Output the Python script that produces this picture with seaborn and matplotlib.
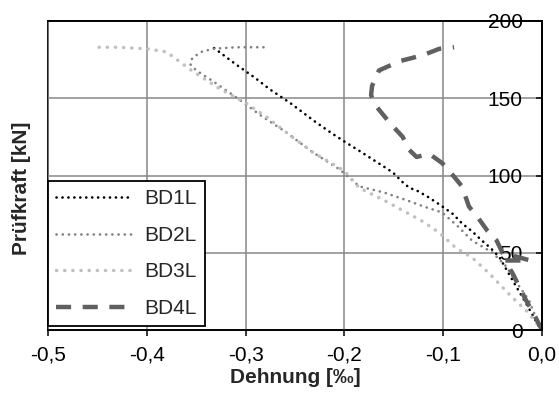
import matplotlib
matplotlib.use("Agg")
import matplotlib.pyplot as plt
import seaborn as sns
import pandas as pd

# ---- data ----
bd1_strain = [0.0, -0.003, -0.015, -0.026, -0.035, -0.043, -0.052, -0.061, -0.071, -0.081, -0.090,
              -0.101, -0.115, -0.126, -0.134, -0.140, -0.151, -0.168, -0.185, -0.200, -0.212,
              -0.230, -0.255, -0.276, -0.290, -0.310, -0.333]
bd1_force = [0, 2, 16, 28, 38, 47, 53, 58, 64, 69, 75, 80, 86, 90, 92, 95, 102, 109, 116, 122, 127,
             135, 147, 156, 163, 172, 183]

bd2_strain = [0.0, -0.005, -0.013, -0.025, -0.036, -0.050, -0.071, -0.085, -0.101, -0.120, -0.137,
              -0.160, -0.185, -0.205, -0.232, -0.259, -0.285, -0.306, -0.333, -0.350, -0.356,
              -0.354, -0.345, -0.333, -0.310, -0.280]
bd2_force = [0, 6, 19, 30, 41, 50, 58, 67, 76, 80, 84, 89, 93, 104, 115, 128, 139, 149, 161, 168,
             172, 176, 180, 182, 183, 183]

bd3_strain = [0.0, -0.005, -0.015, -0.030, -0.042, -0.054, -0.071, -0.087, -0.104, -0.120, -0.137,
              -0.160, -0.185, -0.200, -0.232, -0.255, -0.279, -0.300, -0.326, -0.357, -0.380,
              -0.400, -0.430, -0.456]
bd3_force = [0, 4, 12, 21, 29, 37, 47, 53, 63, 70, 76, 84, 92, 103, 115, 126, 138, 147, 156, 169,
             180, 182, 183, 183]

bd4_strain = [0.0, -0.008, -0.016, -0.023, -0.030, -0.038, -0.012, -0.040, -0.046, -0.055, -0.064,
              -0.074, -0.081, -0.090, -0.101, -0.114, -0.127, -0.135, -0.141, -0.154, -0.168,
              -0.173, -0.172, -0.165, -0.144, -0.120, -0.104, -0.089]
bd4_force = [0, 10, 19, 28, 37, 45, 45, 50, 58, 64, 72, 80, 93, 100, 108, 114, 112, 117, 125, 134,
             145, 152, 158, 168, 174, 178, 182, 183]

series_names = ["BD1L", "BD2L", "BD3L", "BD4L"]
x_ticks = [-0.5, -0.4, -0.3, -0.2, -0.1, 0.0]
x_ticklabels = ["-0,5", "-0,4", "-0,3", "-0,2", "-0,1", "0,0"]
y_ticks = [0, 50, 100, 150, 200]
y_ticklabels = ["0", "50", "100", "150", "200"]

sns.set_theme(style="white")
plt.rcParams["font.family"] = ["Liberation Sans", "DejaVu Sans"]

fig = plt.figure(figsize=(5.59, 3.94), dpi=100)
ax = fig.add_axes([48 / 559, 1 - 330 / 394, (542 - 48) / 559, (330 - 21) / 394])

styles = [
    dict(color="#000000", lw=1.9, ls=(0, (0.05, 2.2)), cap="round"),
    dict(color="#808080", lw=1.9, ls=(0, (0.05, 2.3)), cap="round"),
    dict(color="#c0c0c0", lw=2.5, ls=(0, (0.05, 2.3)), cap="round"),
    dict(color="#606060", lw=3.2, ls=(0, (3.4, 2.6)), cap="butt"),
]
data = [(bd1_strain, bd1_force), (bd2_strain, bd2_force), (bd3_strain, bd3_force), (bd4_strain, bd4_force)]

for name, (xs, ys), st in zip(series_names, data, styles):
    df = pd.DataFrame({"strain": xs, "force": ys})
    sns.lineplot(data=df, x="strain", y="force", sort=False, estimator=None, ax=ax,
                 color=st["color"], linewidth=st["lw"], linestyle=st["ls"], label=name,
                 dash_capstyle=st["cap"])

ax.set_xlim(-0.5, 0.0)
ax.set_ylim(0, 200)
ax.set_xticks(x_ticks)
ax.set_xticklabels(x_ticklabels)
ax.set_yticks(y_ticks)
ax.set_yticklabels(y_ticklabels)

ax.grid(True, color="#888888", lw=1.1)
ax.set_axisbelow(True)

# y axis at x = 0 (right edge), labels inside
ax.spines["left"].set_position(("data", 0.0))
for s in ["left", "bottom", "right", "top"]:
    ax.spines[s].set_color("black")
    ax.spines[s].set_linewidth(1.3)
ax.patch.set_edgecolor("black")
ax.patch.set_linewidth(1.3)
ax.patch.set_facecolor("white")

ax.tick_params(axis="y", direction="out", length=4, width=1.1, pad=10, labelsize=15, colors="black",
               left=True)
ax.tick_params(axis="x", direction="out", length=4, width=1.1, pad=7, labelsize=15, colors="black",
               bottom=True)

ax.set_xlabel("Dehnung [‰]", fontsize=15, fontweight="bold")
ax.set_ylabel("Prüfkraft [kN]", fontsize=15, fontweight="bold")
ax.xaxis.set_label_coords(0.5, -0.155)
ax.yaxis.set_label_coords(-0.053, 0.46)
ax.yaxis.label.set_va("center")
ax.xaxis.label.set_va("center")

leg = ax.legend(loc="lower left", bbox_to_anchor=(0.0, 0.012), fontsize=15, frameon=True,
                fancybox=False, borderpad=0.4, handlelength=3.6, handletextpad=0.6,
                labelspacing=0.84, borderaxespad=0.0)
leg.get_frame().set_edgecolor("black")
leg.get_frame().set_linewidth(1.3)
leg.get_frame().set_facecolor("white")
leg.get_frame().set_alpha(1.0)

fig.savefig("out.png", dpi=100)
